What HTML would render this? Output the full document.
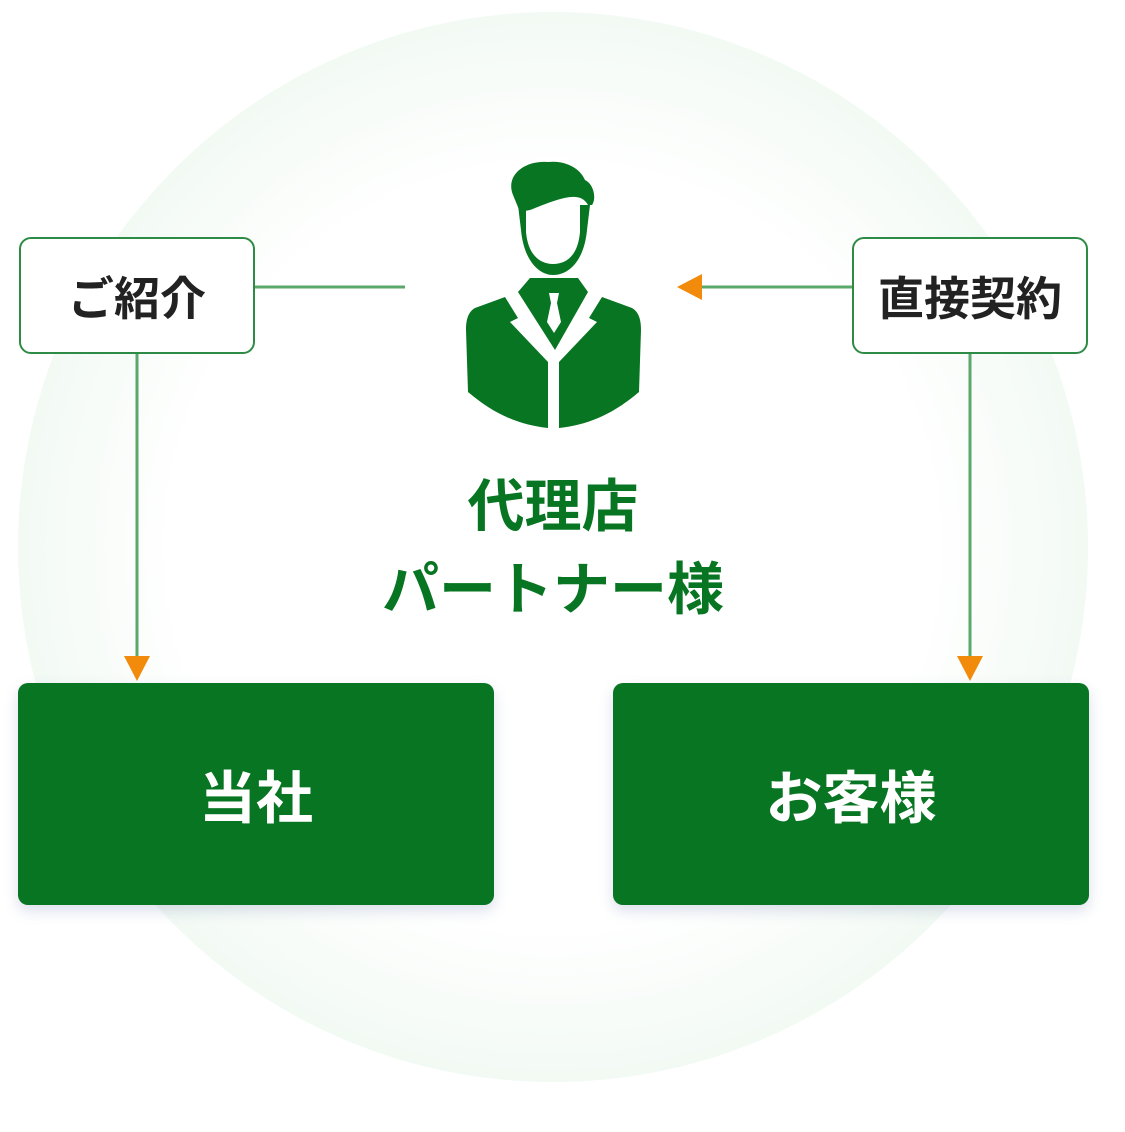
<!DOCTYPE html>
<html><head><meta charset="utf-8"><style>
body{margin:0;width:1125px;height:1132px;background:#fff;position:relative;overflow:hidden;font-family:"Liberation Sans","Noto Sans CJK JP",sans-serif}
.circ{position:absolute;left:18px;top:12px;width:1070px;height:1070px;border-radius:50%;background:radial-gradient(circle,#fff 0%,#fff 50%,#eef8f0 78%,#dcf1e0 100%)}
.lbl{position:absolute;width:232px;height:113px;border:2px solid #2e8b45;border-radius:12px;background:#fff;display:flex;align-items:center;justify-content:center;font-size:46px;font-weight:bold;color:#222}
.gb{position:absolute;top:683px;width:476px;height:222px;background:#077522;border-radius:10px;display:flex;align-items:center;justify-content:center;color:#fff;font-size:57px;font-weight:bold;box-shadow:0 6px 14px rgba(80,100,160,.2)}
.t{position:absolute;left:0;width:1106px;text-align:center;color:#077522;font-size:57px;font-weight:bold;line-height:1}
</style></head><body>
<div class="circ"></div>
<svg style="position:absolute;left:0;top:0" width="1125" height="1132">
<g stroke="#5aa86a" stroke-width="3" fill="none">
<line x1="255" y1="287" x2="405" y2="287"/>
<line x1="137" y1="354" x2="137" y2="660"/>
<line x1="852" y1="287" x2="700" y2="287"/>
<line x1="970" y1="354" x2="970" y2="660"/>
</g>
<g fill="#f28a0c">
<polygon points="124,656 150,656 137,681"/>
<polygon points="957,656 983,656 970,681"/>
<polygon points="677,287 702,274 702,300"/>
</g>
<g fill="#077522">
<path d="M513,195 C505,175 525,160 548,162 C565,160 580,168 585,180 C595,185 596,200 592,205 L588,205 C580,190 560,198 530,210 L520,212 Z"/>
<path d="M518,205 L521,230 C524,262 540,275 553,275 C568,275 584,262 587,230 L590,205 L580,205 L580,232 C578,255 567,264 553,264 C540,264 528,255 526,232 L526,208 Z"/>
<path d="M530,278 L578,278 L588,292 L555,350 L518,292 Z" />
<path d="M505,297 L475,308 C468,312 466,320 466,330 L468,392 C495,415 520,425 548,428 L548,362 L510,322 L518,318 Z"/>
<path d="M602,297 L632,308 C639,312 641,320 641,330 L639,392 C612,415 587,425 559,428 L559,362 L597,322 L589,318 Z"/>
</g>
<path d="M549,293 L559,293 L557,303 L561,322 L554,333 L547,322 L551,303 Z" fill="#fff"/>
</svg>
<div class="lbl" style="left:19px;top:237px">ご紹介</div>
<div class="lbl" style="left:852px;top:237px">直接契約</div>
<div class="t" style="top:479px">代理店</div>
<div class="t" style="top:562px">パートナー様</div>
<div class="gb" style="left:18px">当社</div>
<div class="gb" style="left:613px">お客様</div>
</body></html>
